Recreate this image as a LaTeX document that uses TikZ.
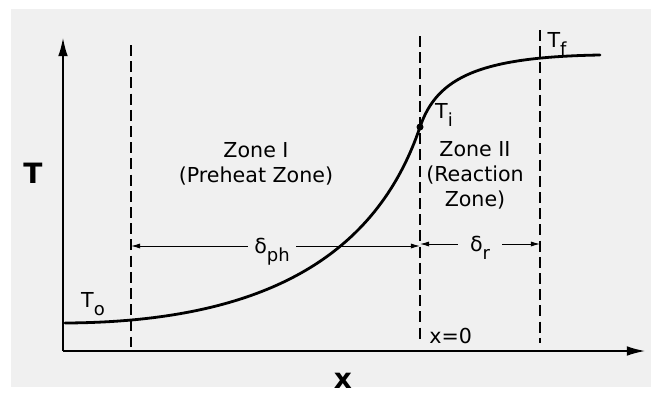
\documentclass[tikz,border=0pt]{standalone}
\usepackage{fontspec}
\setmainfont{DejaVu Sans}
\usetikzlibrary{arrows.meta}
\newcommand{\lowsub}[1]{\smash{\raisebox{-4pt}{\fontsize{9}{10}\selectfont #1}}}

\begin{document}
\begin{tikzpicture}[
  x=0.5pt, y=-0.5pt,
  lbl/.style={font=\fontsize{10.3}{12.5}\selectfont, inner sep=1pt, align=center},
  axisLbl/.style={font=\fontsize{14}{16}\selectfont\bfseries},
  dimLbl/.style={lbl, inner xsep=3pt},
  axis/.style={-{Latex[length=3.2mm, width=1.7mm]}, line width=0.7pt},
  guide/.style={line width=0.6pt, dash pattern=on 5.5pt off 2.6pt},
  dimArr/.style={-{Latex[length=1.6mm, width=0.9mm]}, line width=0.5pt},
  profile/.style={line width=1.4pt, line cap=round}
]
\useasboundingbox (0,0) rectangle (651,396);
\fill[black!6] (11,9) rectangle (651,387);

% axes
\coordinate (o) at (63,351);
\coordinate (ytip) at (63,38);
\coordinate (xtip) at (645,351);
\draw[axis] (o) -- (ytip);
\draw[axis] (o) -- (xtip);
\node[axisLbl] (tlab) at (33,173) {T};
\node[axisLbl] (xlab) at (343,381) {x};

% zone boundaries
\foreach \i/\xx/\ya/\yb in {1/131/45/347, 2/420/36/343, 3/540/30/343} {
  \coordinate (top\i) at (\xx,\ya);
  \coordinate (bot\i) at (\xx,\yb);
  \draw[guide] (top\i) -- (bot\i);
}

% temperature profile
\node[circle, fill, inner sep=0pt, minimum size=3.5pt] (tidot) at (420,127) {};
\draw[profile] (65,323) .. controls (280,322) and (380,245) .. (tidot.center)
  .. controls (437,77) and (480,57) .. (600,55);

\node[lbl] (tzero) at (93,300) {T\lowsub{o}};
\node[lbl] (tign) at (444,111) {T\lowsub{i}};
\node[lbl] (tfin) at (557,40) {T\lowsub{f}};

\node[lbl] (zone1) at (256,164) {Zone I\\(Preheat Zone)};
\node[lbl] (zone2) at (475,175) {Zone II\\(Reaction\\Zone)};
\node[lbl, anchor=west] (xzero) at (427,336) {x=0};

% thicknesses
\node[dimLbl] (dph) at (272,246) {δ\lowsub{ph}};
\draw[dimArr] (dph) -- (dph -| top1);
\draw[dimArr] (dph) -- (dph -| top2);
\node[dimLbl, inner xsep=6pt] (dr) at (480,244) {δ\lowsub{r}};
\draw[dimArr] (dr) -- (dr -| top2);
\draw[dimArr] (dr) -- (dr -| top3);
\end{tikzpicture}
\end{document}
